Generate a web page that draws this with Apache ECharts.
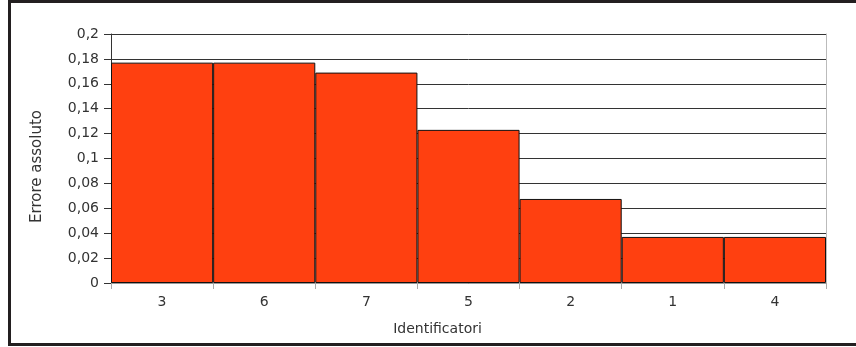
<!DOCTYPE html>
<html><head><meta charset="utf-8">
<script src="https://cdn.jsdelivr.net/npm/echarts@6/dist/echarts.min.js"></script>
<style>html,body{margin:0;padding:0;background:#fff}#c{width:856px;height:347px}</style>
</head><body><div id="c"></div>
<script>
const categories = ['3','6','7','5','2','1','4'];
const values = [0.177, 0.177, 0.169, 0.123, 0.0675, 0.037, 0.037];
const yTicks = {min: 0, max: 0.2, interval: 0.02};
const xName = 'Identificatori';
const yName = 'Errore assoluto';

const chart = echarts.init(document.getElementById('c'), null, {renderer: 'canvas'});
const font = 'DejaVu Sans';
chart.setOption({
  animation: false,
  backgroundColor: '#fff',
  grid: {left: 111, top: 34, right: 30, bottom: 64},
  graphic: [{type: 'rect', shape: {x: 9.5, y: 1.5, width: 900, height: 343}, style: {fill: 'none', stroke: '#231f20', lineWidth: 3}, z: 100}],
  xAxis: {
    type: 'category', data: categories, boundaryGap: true,
    name: xName, nameLocation: 'middle', nameGap: 39,
    nameTextStyle: {fontFamily: font, fontSize: 14, color: '#333', padding: [0, 62, 0, 0]},
    axisLine: {lineStyle: {color: '#999', width: 1}},
    axisTick: {show: true, length: 6, lineStyle: {color: '#aaa'}},
    axisLabel: {fontFamily: font, fontSize: 14, color: '#333', margin: 12},
    splitLine: {show: false}
  },
  yAxis: [{
    type: 'value', min: yTicks.min, max: yTicks.max, interval: yTicks.interval,
    name: yName, nameLocation: 'middle', nameGap: 66,
    nameTextStyle: {fontFamily: font, fontSize: 15, color: '#333', padding: [0, 16, 0, 0]},
    axisLine: {show: true, lineStyle: {color: '#333', width: 1}},
    axisTick: {show: true, length: 7, lineStyle: {color: '#333'}},
    axisLabel: {fontFamily: font, fontSize: 14, color: '#333', margin: 12,
      formatter: v => String(+v.toFixed(2)).replace('.', ',')},
    splitLine: {show: true, lineStyle: {color: '#333', width: 1}}
  }, {
    type: 'value', position: 'right', min: yTicks.min, max: yTicks.max, interval: yTicks.interval,
    axisLine: {show: true, lineStyle: {color: '#bbb', width: 1}},
    axisTick: {show: false}, axisLabel: {show: false}, splitLine: {show: false}
  }],
  series: [{
    type: 'bar', data: values, barCategoryGap: '0%',
    itemStyle: {color: '#ff4010', borderColor: '#111', borderWidth: 1}
  }]
});
</script></body></html>
